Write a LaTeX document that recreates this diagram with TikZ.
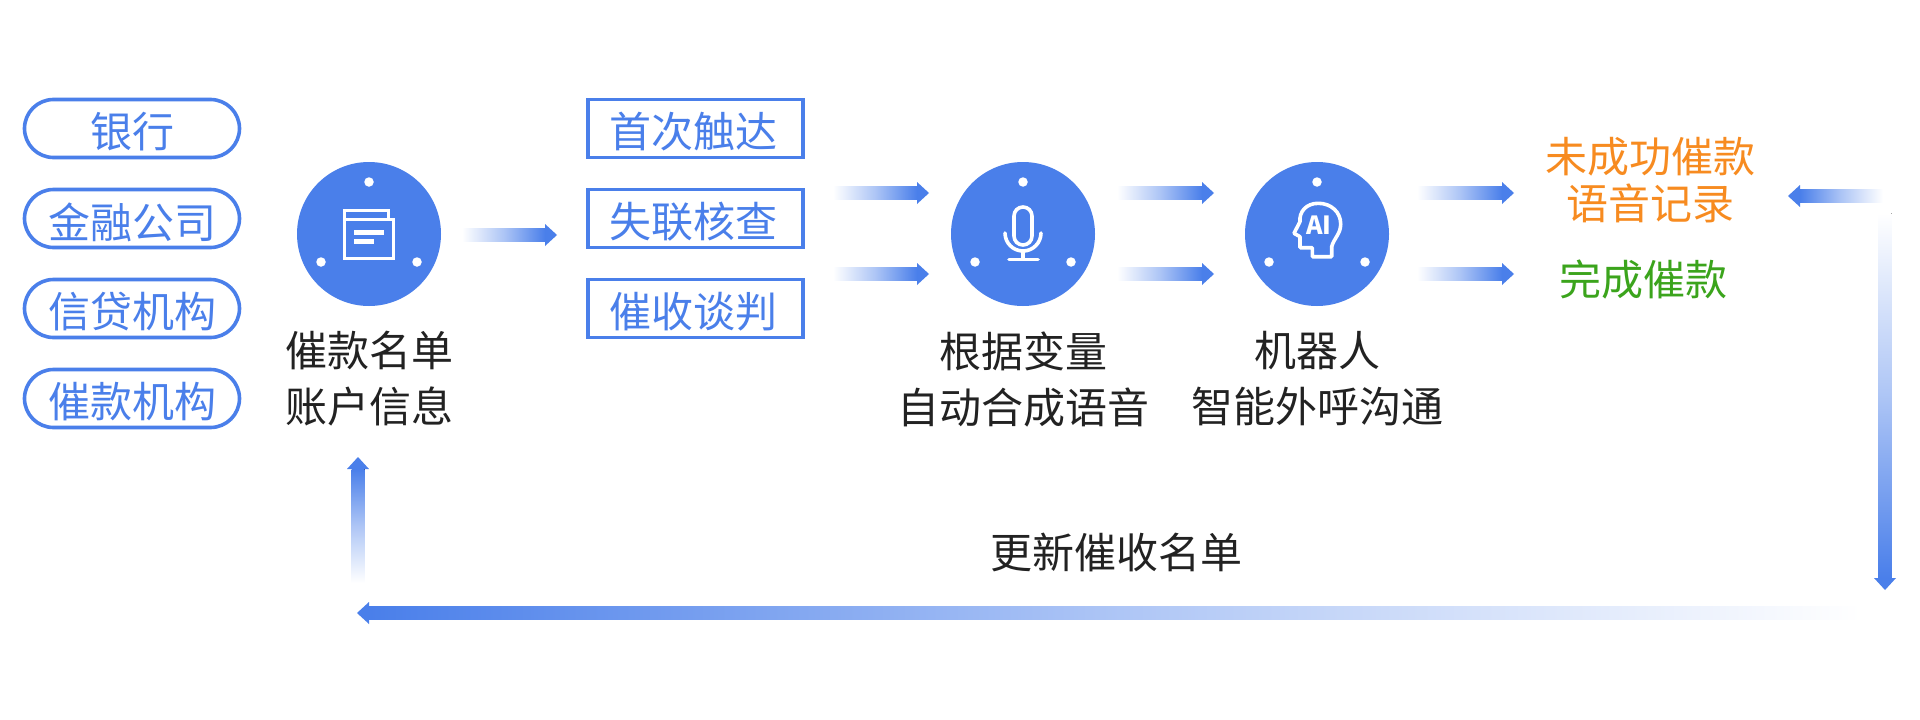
\documentclass[tikz,border=0pt]{standalone}
\usepackage{fontspec}
\setmainfont{Noto Sans CJK SC}
\usetikzlibrary{calc}
\definecolor{ablue}{HTML}{4A7FEA}
\definecolor{atext}{HTML}{222222}
\definecolor{aorange}{HTML}{F78B20}
\definecolor{agreen}{HTML}{3BA41C}
\newcommand{\bigtxt}{\fontsize{42}{56}\selectfont}
\newcommand{\gradarrow}[3]{%
  \coordinate (he) at ($(#3)!12pt!(#2)$);
  \fill[#1,middle color=ablue!45!white] ($(#2)!6.5pt!90:(#3)$) -- ($(he)!6.5pt!90:(#3)$) -- ($(he)!6.5pt!-90:(#3)$) -- ($(#2)!6.5pt!-90:(#3)$) -- cycle;
  \fill[ablue] ($(he)!11pt!90:(#3)$) -- (#3) -- ($(he)!11pt!-90:(#3)$) -- cycle;
}
\tikzset{
  x=1pt,y=-1pt,
  pill/.style={draw=ablue,line width=3.6pt,rounded corners=29pt,minimum width=215pt,minimum height=58pt},
  boxed/.style={draw=ablue,line width=3.6pt,minimum width=215pt,minimum height=58pt},
  boxtext/.style={inner sep=0pt,text=ablue,font=\bigtxt},
  disc/.style={circle,fill=ablue,minimum size=144pt,inner sep=0pt},
  dot/.style={circle,fill=white,minimum size=9.5pt,inner sep=0pt},
  label/.style={align=center,inner sep=0pt,text=atext,font=\bigtxt},
  icon/.style={draw=white,line width=3.6pt},
  toR/.style={left color=white,right color=ablue},
  toL/.style={right color=white,left color=ablue},
  toD/.style={top color=white,bottom color=ablue},
  toU/.style={bottom color=white,top color=ablue},
}
\begin{document}
\begin{tikzpicture}
\useasboundingbox (0,0) rectangle (1920,720);
\fill[white] (0,0) rectangle (1920,720);
% left pills
\node[pill] (p1) at (132,128.5) {};
\node[pill] (p2) at (132,218.5) {};
\node[pill] (p3) at (132,308.5) {};
\node[pill] (p4) at (132,398.5) {};
\node[boxtext] (pt1) at (132,132) {银行};
\node[boxtext] (pt2) at (132,222) {金融公司};
\node[boxtext] (pt3) at (132,312) {信贷机构};
\node[boxtext] (pt4) at (132,402) {催款机构};
% middle boxes
\node[boxed] (b1) at (695.5,128.5) {};
\node[boxed] (b2) at (695.5,218.5) {};
\node[boxed] (b3) at (695.5,308.5) {};
\node[boxtext] (bt1) at (693,132) {首次触达};
\node[boxtext] (bt2) at (693,222) {失联核查};
\node[boxtext] (bt3) at (693,312) {催收谈判};
% discs
\node[disc] (c1) at (369,234) {};
\node[disc] (c2) at (1023,234) {};
\node[disc] (c3) at (1317,234) {};
\foreach \c in {c1,c2,c3}{
  \node[dot] (\c t) at ($(\c)+(0,-52)$) {};
  \node[dot] (\c l) at ($(\c)+(-48,28)$) {};
  \node[dot] (\c r) at ($(\c)+(48,28)$) {};
}
% document icon
\draw[icon] (344.5,218) -- (344.5,210.5) -- (388.5,210.5) -- (388.5,219);
\draw[icon] (344.5,219.5) rectangle (393.5,258.5);
\fill[white] (354,229.5) rectangle (383.5,234.5);
\fill[white] (354,239) rectangle (374,244);
% microphone icon
\draw[icon] (1014,216) arc[start angle=180,end angle=360,radius=9] -- (1032,236) arc[start angle=0,end angle=180,radius=9] -- cycle;
\draw[icon,line cap=round] (1005,233) arc[start angle=180,end angle=0,radius=18];
\draw[icon] (1023,251) -- (1023,259);
\draw[icon,line cap=round] (1009,259.5) -- (1038,259.5);
% AI head icon
\draw[icon,line join=round] (1331.7,256.7) -- (1331.7,246.7)
  .. controls (1334,238) and (1340.7,234) .. (1340.7,224)
  .. controls (1340.7,212) and (1331,203.3) .. (1318.3,203.3)
  .. controls (1306,203.3) and (1299,212) .. (1300,221.7)
  -- (1294,233.3) -- (1300,236.7) -- (1300,247.7) -- (1312.3,247.7) -- (1312.3,256.7) -- cycle;
\node[inner sep=0pt,text=white,font=\fontsize{25}{25}\selectfont\bfseries] (ai) at (1319,225) {AI};
% labels
\node[label] (l1) at (369,379) {催款名单\\账户信息};
\node[label] (l2) at (1023,379) {根据变量\\自动合成语音};
\node[label] (l3) at (1317,379) {机器人\\智能外呼沟通};
\node[label,text=aorange,font=\fontsize{42}{47}\selectfont] (l4) at (1650,180) {未成功催款\\语音记录};
\node[label,text=agreen] (l5) at (1643,279) {完成催款};
\node[label] (l6) at (1116,552) {更新催收名单};
% arrow ends
\coordinate (s1) at (462,235);    \coordinate (e1) at (557,235);
\coordinate (s2) at (833,193);    \coordinate (e2) at (929,193);
\coordinate (s3) at (833,274);    \coordinate (e3) at (929,274);
\coordinate (s4) at (1117,193);   \coordinate (e4) at (1214,193);
\coordinate (s5) at (1117,274);   \coordinate (e5) at (1214,274);
\coordinate (s6) at (1417,193);   \coordinate (e6) at (1514,193);
\coordinate (s7) at (1417,274);   \coordinate (e7) at (1514,274);
\coordinate (s8) at (1883,196);   \coordinate (e8) at (1788,196);
\coordinate (s9) at (1885,213);   \coordinate (e9) at (1885,590);
\coordinate (s10) at (1861,613);  \coordinate (e10) at (357,613);
\coordinate (s11) at (358,583);   \coordinate (e11) at (358,457);
\gradarrow{toR}{s1}{e1}
\gradarrow{toR}{s2}{e2}
\gradarrow{toR}{s3}{e3}
\gradarrow{toR}{s4}{e4}
\gradarrow{toR}{s5}{e5}
\gradarrow{toR}{s6}{e6}
\gradarrow{toR}{s7}{e7}
\gradarrow{toL}{s8}{e8}
\gradarrow{toD}{s9}{e9}
\gradarrow{toL}{s10}{e10}
\gradarrow{toU}{s11}{e11}
\end{tikzpicture}
\end{document}
